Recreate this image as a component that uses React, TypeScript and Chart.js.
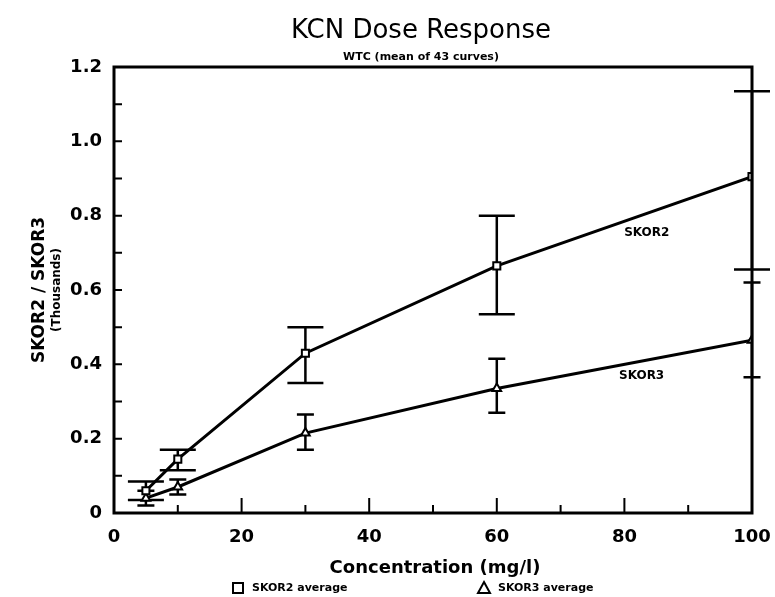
import React, { useEffect, useRef } from "react";
import { Chart, registerables } from "chart.js";

Chart.register(...registerables);

const concentrations = [5, 10, 30, 60, 100];
const skor2Mean = [0.06, 0.145, 0.43, 0.665, 0.905];
const skor2Low = [0.035, 0.115, 0.35, 0.535, 0.655];
const skor2High = [0.085, 0.17, 0.5, 0.8, 1.135];
const skor3Mean = [0.04, 0.07, 0.215, 0.335, 0.465];
const skor3Low = [0.02, 0.05, 0.17, 0.27, 0.365];
const skor3High = [0.06, 0.09, 0.265, 0.415, 0.62];

const titleText = "KCN Dose Response";
const subtitleText = "WTC (mean of 43 curves)";
const yTitle = "SKOR2 / SKOR3";
const yTitle2 = "(Thousands)";
const xTitle = "Concentration (mg/l)";
const legendLabels = ["SKOR2 average", "SKOR3 average"];
const lineLabels = ["SKOR2", "SKOR3"];
const lineLabelPos = [
  [83.5, 0.755],
  [82.7, 0.37],
];

const FONT = "'DejaVu Sans', 'Liberation Sans', sans-serif";

const errorBars = [
  { low: skor2Low, high: skor2High, cap: 36 },
  { low: skor3Low, high: skor3High, cap: 17 },
];

const customPlugin = {
  id: "custom",
  beforeDatasetsDraw(chart: any) {
    const ctx = chart.ctx;
    const xs = chart.scales.x;
    const ys = chart.scales.y;
    ctx.save();
    ctx.strokeStyle = "#000";
    ctx.lineWidth = 2.5;
    errorBars.forEach((eb) => {
      concentrations.forEach((c, i) => {
        const px = xs.getPixelForValue(c);
        const pl = ys.getPixelForValue(eb.low[i]);
        const ph = ys.getPixelForValue(eb.high[i]);
        ctx.beginPath();
        ctx.moveTo(px, pl);
        ctx.lineTo(px, ph);
        ctx.moveTo(px - eb.cap / 2, pl);
        ctx.lineTo(px + eb.cap / 2, pl);
        ctx.moveTo(px - eb.cap / 2, ph);
        ctx.lineTo(px + eb.cap / 2, ph);
        ctx.stroke();
      });
    });
    ctx.restore();
  },
  afterDraw(chart: any) {
    const ctx = chart.ctx;
    const xs = chart.scales.x;
    const ys = chart.scales.y;
    const a = chart.chartArea;
    ctx.save();
    ctx.strokeStyle = "#000";
    ctx.fillStyle = "#000";
    ctx.lineWidth = 3;
    ctx.strokeRect(a.left, a.top, a.right - a.left, a.bottom - a.top);
    ctx.lineWidth = 2;
    ctx.beginPath();
    for (let v = 1; v <= 11; v++) {
      const py = ys.getPixelForValue(v / 10);
      ctx.moveTo(a.left, py);
      ctx.lineTo(a.left + 8, py);
    }
    for (let v = 10; v < 100; v += 10) {
      const px = xs.getPixelForValue(v);
      const len = v % 20 === 0 ? 15 : 8;
      ctx.moveTo(px, a.bottom);
      ctx.lineTo(px, a.bottom - len);
    }
    ctx.stroke();

    const cx = (a.left + a.right) / 2 - 12;
    ctx.textAlign = "center";
    ctx.textBaseline = "middle";
    ctx.font = `26px ${FONT}`;
    ctx.fillText(titleText, cx, 31);
    ctx.font = `bold 11px ${FONT}`;
    ctx.fillText(subtitleText, cx, 57);

    ctx.font = `bold 18px ${FONT}`;
    ctx.fillText(xTitle, cx + 14, 568);

    ctx.save();
    ctx.translate(40, (a.top + a.bottom) / 2);
    ctx.rotate(-Math.PI / 2);
    ctx.font = `bold 17px ${FONT}`;
    ctx.fillText(yTitle, 0, 0);
    ctx.restore();
    ctx.save();
    ctx.translate(57, (a.top + a.bottom) / 2);
    ctx.rotate(-Math.PI / 2);
    ctx.font = `bold 12px ${FONT}`;
    ctx.fillText(yTitle2, 0, 0);
    ctx.restore();

    ctx.font = `bold 12px ${FONT}`;
    lineLabels.forEach((t, i) => {
      ctx.fillText(
        t,
        xs.getPixelForValue(lineLabelPos[i][0]),
        ys.getPixelForValue(lineLabelPos[i][1])
      );
    });

    const ly = 588;
    ctx.lineWidth = 2;
    ctx.strokeRect(233, ly - 5, 10, 10);
    ctx.beginPath();
    ctx.moveTo(484, ly - 6);
    ctx.lineTo(490, ly + 5);
    ctx.lineTo(478, ly + 5);
    ctx.closePath();
    ctx.stroke();
    ctx.textAlign = "left";
    ctx.font = `bold 11px ${FONT}`;
    ctx.fillText(legendLabels[0], 252, ly);
    ctx.fillText(legendLabels[1], 498, ly);
    ctx.restore();
  },
};

export default function App() {
  const ref = useRef<HTMLCanvasElement | null>(null);
  useEffect(() => {
    if (!ref.current) return;
    const chart = new Chart(ref.current, {
      type: "line",
      data: {
        datasets: [
          {
            label: legendLabels[0],
            data: concentrations.map((c, i) => ({ x: c, y: skor2Mean[i] })),
            borderColor: "#000",
            backgroundColor: "#fff",
            borderWidth: 3,
            pointStyle: "rect",
            pointRadius: 5,
            pointBorderWidth: 2,
            pointBorderColor: "#000",
            pointBackgroundColor: "#fff",
            tension: 0,
          },
          {
            label: legendLabels[1],
            data: concentrations.map((c, i) => ({ x: c, y: skor3Mean[i] })),
            borderColor: "#000",
            backgroundColor: "#fff",
            borderWidth: 3,
            pointStyle: "triangle",
            pointRadius: 5,
            pointBorderWidth: 2,
            pointBorderColor: "#000",
            pointBackgroundColor: "#fff",
            tension: 0,
          },
        ],
      },
      options: {
        responsive: false,
        animation: false,
        layout: { padding: { top: 67, right: 23, left: 0, bottom: 0 } },
        plugins: {
          legend: { display: false },
          tooltip: { enabled: false },
          title: { display: false },
        },
        scales: {
          x: {
            type: "linear",
            min: 0,
            max: 100,
            grid: { display: false, drawTicks: false },
            border: { display: false },
            ticks: {
              stepSize: 20,
              padding: 14,
              color: "#000",
              font: { family: FONT, size: 18, weight: "bold" },
            },
            afterFit: (s: any) => {
              s.height = 84;
              s.paddingRight = 0;
              s.paddingLeft = 0;
            },
          },
          y: {
            min: 0,
            max: 1.2,
            grid: { display: false, drawTicks: false },
            border: { display: false },
            ticks: {
              stepSize: 0.2,
              padding: 12,
              color: "#000",
              font: { family: FONT, size: 18, weight: "bold" },
              callback: (v: any) => (v === 0 ? "0" : Number(v).toFixed(1)),
            },
            afterFit: (s: any) => {
              s.width = 114;
              s.paddingTop = 0;
              s.paddingBottom = 0;
            },
          },
        },
      },
      plugins: [customPlugin],
    });
    return () => chart.destroy();
  }, []);
  return (
    <div style={{ position: "fixed", left: 0, top: 0, width: 775, height: 597, background: "#fff" }}>
      <canvas ref={ref} width={775} height={597} />
    </div>
  );
}
